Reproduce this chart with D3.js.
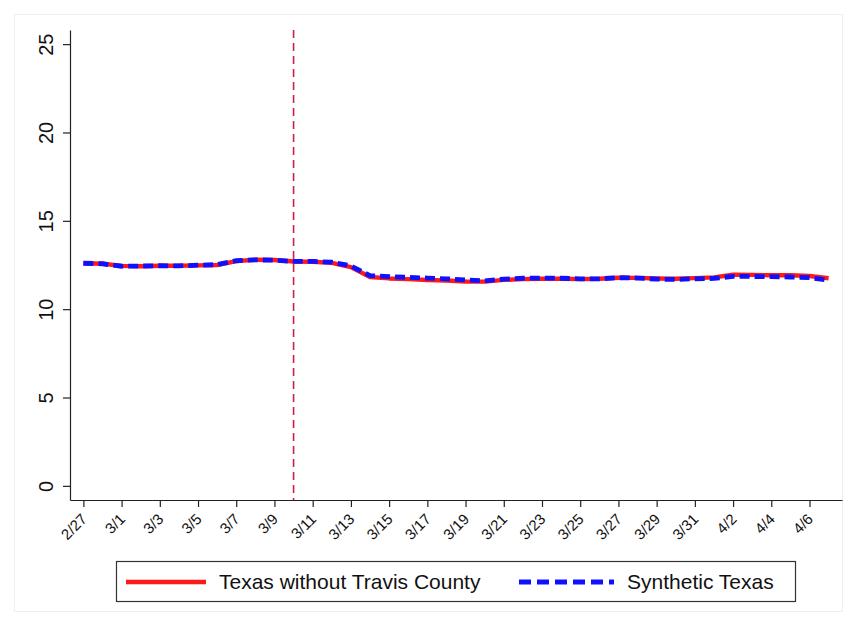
<!DOCTYPE html>
<html><head><meta charset="utf-8">
<script src="https://cdn.jsdelivr.net/npm/d3@7/dist/d3.min.js"></script>
<style>
body{margin:0;background:#fff}
svg{display:block}
text{font-family:"Liberation Sans",Arial,Helvetica,sans-serif;fill:#111}
</style>
</head><body>
<svg id="chart" width="851" height="623"></svg>
<script>
// ---- data ----
const dates = ['2/27','2/28',
  '3/1','3/2','3/3','3/4','3/5','3/6','3/7','3/8','3/9','3/10','3/11','3/12','3/13','3/14','3/15','3/16',
  '3/17','3/18','3/19','3/20','3/21','3/22','3/23','3/24','3/25','3/26','3/27','3/28','3/29','3/30','3/31',
  '4/1','4/2','4/3','4/4','4/5','4/6','4/7'];
const tickLabels = ['2/27','3/1','3/3','3/5','3/7','3/9','3/11','3/13','3/15','3/17',
  '3/19','3/21','3/23','3/25','3/27','3/29','3/31','4/2','4/4','4/6'];
const texasWithoutTravis = [12.60,12.57,12.45,12.43,12.46,12.46,12.48,12.50,12.72,12.80,
  12.78,12.70,12.68,12.62,12.38,11.82,11.74,11.70,11.65,11.62,
  11.57,11.56,11.66,11.70,11.72,11.72,11.70,11.72,11.78,11.77,
  11.74,11.72,11.76,11.80,11.95,11.94,11.92,11.92,11.88,11.75];
const syntheticTexas = [12.60,12.57,12.43,12.44,12.46,12.45,12.49,12.52,12.74,12.79,
  12.77,12.70,12.70,12.66,12.45,11.90,11.84,11.80,11.76,11.72,
  11.65,11.60,11.70,11.75,11.76,11.75,11.72,11.72,11.78,11.76,
  11.70,11.68,11.72,11.74,11.86,11.85,11.84,11.82,11.78,11.64];
const yTicks = [0,5,10,15,20,25];
const treatmentDate = '3/10';
const seriesNames = ['Texas without Travis County','Synthetic Texas'];

// ---- chart ----
const svg = d3.select('#chart');
const plotL = 70, plotR = 842, plotT = 30, plotB = 500;

// faint outer graph-region frame
svg.append('rect').attr('x',14.5).attr('y',14.5).attr('width',828).attr('height',597)
  .attr('fill','none').attr('stroke','#efefef').attr('stroke-width',1);

const x = d3.scaleLinear().domain([-0.7, dates.length - 0.3]).range([plotL, plotR]);
const y = d3.scaleLinear().domain([-0.8, 25.8]).range([plotB, plotT]);

// y axis
const yAxis = svg.append('g').attr('transform',`translate(${plotL},0)`)
  .call(d3.axisLeft(y).tickValues(yTicks).tickSize(7).tickSizeOuter(0).tickFormat(d3.format('d')));
yAxis.select('.domain').attr('stroke','#222').attr('stroke-width',1.2);
yAxis.selectAll('.tick line').attr('stroke','#222').attr('stroke-width',1.2);
yAxis.selectAll('.tick text')
  .attr('transform','rotate(-90)')
  .attr('x',0).attr('y',-17).attr('dy','0')
  .attr('text-anchor','middle')
  .style('font-size','20px');

// x axis
const tickIdx = tickLabels.map(l => dates.indexOf(l));
const xAxis = svg.append('g').attr('transform',`translate(0,${plotB})`)
  .call(d3.axisBottom(x).tickValues(tickIdx).tickSize(7).tickSizeOuter(0)
    .tickFormat(i => dates[i]));
xAxis.select('.domain').attr('stroke','#222').attr('stroke-width',1.2);
xAxis.selectAll('.tick line').attr('stroke','#222').attr('stroke-width',1.2);
xAxis.selectAll('.tick text')
  .attr('x',0).attr('y',0).attr('dy','0')
  .attr('transform','translate(4,20) rotate(-45)')
  .attr('text-anchor','end')
  .style('font-size','15px');

// treatment line
const tx = x(dates.indexOf(treatmentDate));
svg.append('line').attr('x1',tx).attr('x2',tx).attr('y1',plotT).attr('y2',plotB)
  .attr('stroke','#d11f45').attr('stroke-width',1.6).attr('stroke-dasharray','8,5');

// series
const line = d3.line().x((d,i) => x(i)).y(d => y(d));
svg.append('path').datum(texasWithoutTravis).attr('d',line)
  .attr('fill','none').attr('stroke','#ff1a1a').attr('stroke-width',4.4)
  .attr('stroke-linejoin','round');
svg.append('path').datum(syntheticTexas).attr('d',line)
  .attr('fill','none').attr('stroke','#1010ff').attr('stroke-width',4.8)
  .attr('stroke-dasharray','10,5');

// legend
const lg = svg.append('g');
lg.append('rect').attr('x',116.5).attr('y',561.5).attr('width',679).attr('height',40)
  .attr('fill','#fff').attr('stroke','#333').attr('stroke-width',1.2);
lg.append('line').attr('x1',126).attr('x2',206).attr('y1',582).attr('y2',582)
  .attr('stroke','#ff1a1a').attr('stroke-width',4.4);
lg.append('text').attr('x',219).attr('y',589).style('font-size','21px').text(seriesNames[0]);
lg.append('line').attr('x1',519).attr('x2',614).attr('y1',582).attr('y2',582)
  .attr('stroke','#1010ff').attr('stroke-width',4.8).attr('stroke-dasharray','12,6');
lg.append('text').attr('x',627).attr('y',589).style('font-size','21px').text(seriesNames[1]);
</script>
</body></html>
